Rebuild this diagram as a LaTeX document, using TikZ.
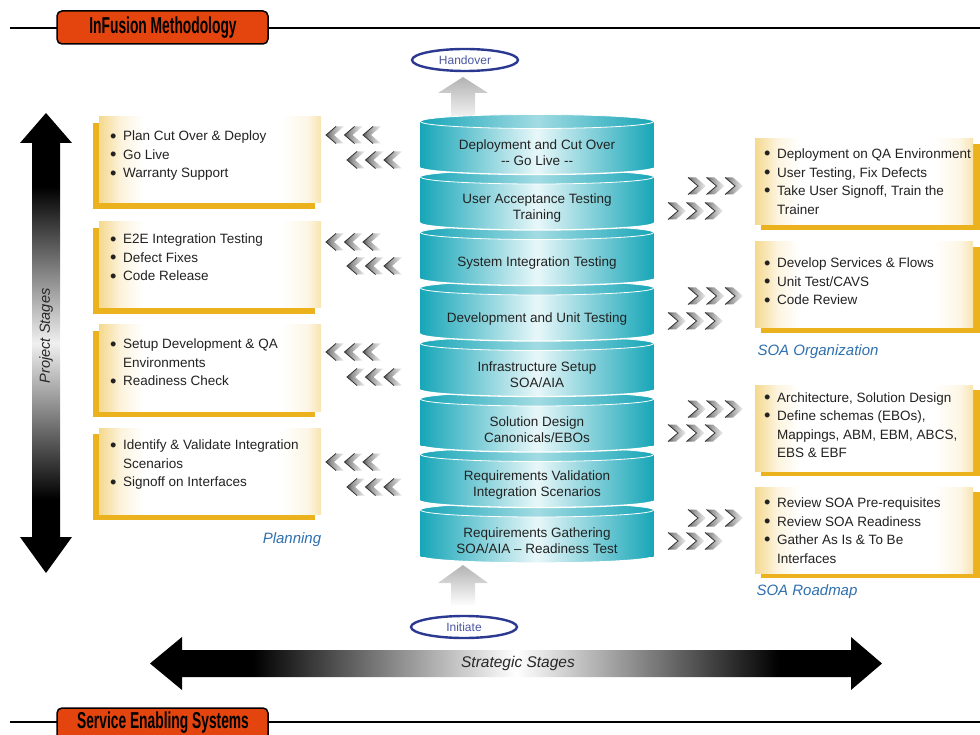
\documentclass[tikz,border=0pt]{standalone}
\usepackage{fontspec}
\setmainfont{Liberation Sans}
\newfontfamily\headfont{Liberation Sans}[FakeStretch=0.6]
\usetikzlibrary{shapes.geometric}
\definecolor{teal1}{HTML}{17A6B8}
\definecolor{tealL}{HTML}{E8F7F9}
\definecolor{gold1}{HTML}{EBB21E}
\definecolor{orng}{HTML}{E4450F}
\definecolor{lblue}{HTML}{2E6FAE}
\definecolor{eblue}{HTML}{2B3990}
\definecolor{txt}{HTML}{222222}
\pgfdeclarehorizontalshading{hbw}{100bp}{color(0bp)=(black); color(32bp)=(black); color(50bp)=(white); color(68bp)=(black); color(100bp)=(black)}
\pgfdeclareverticalshading{vbw}{100bp}{color(0bp)=(black); color(33bp)=(black); color(50bp)=(white!94!black); color(67bp)=(black); color(100bp)=(black)}
\pgfdeclarehorizontalshading{boxsh}{100bp}{color(0bp)=(gold1!50!white); color(25bp)=(gold1!50!white); color(30bp)=(gold1!15!white); color(35bp)=(white); color(66bp)=(white); color(72bp)=(gold1!12!white); color(75bp)=(gold1!35!white); color(100bp)=(gold1!35!white)}
\pgfdeclarehorizontalshading{chevsh}{100bp}{color(0bp)=(black!65); color(25bp)=(black!65); color(40bp)=(black!40); color(75bp)=(black!6); color(100bp)=(black!6)}
\tikzset{
  headbox/.style={fill=orng, draw=black, line width=1.5pt, rounded corners=5pt},
  headtext/.style={font=\headfont\bfseries\fontsize{23}{25}\selectfont, text=black, inner sep=0},
  bodyshade/.style={left color=teal1, right color=teal1, middle color=tealL},
  topshade/.style={left color=teal1, right color=teal1, middle color=teal1!40!white},
  disctext/.style={font=\fontsize{13.5}{16}\selectfont, text=txt, align=center, inner sep=0},
  boxshade/.style={shading=boxsh},
  boxtext/.style={font=\fontsize{13.5}{18.5}\selectfont, text=txt, align=left, inner sep=0, anchor=west},
  lbl/.style={font=\itshape\fontsize{15}{17}\selectfont, text=lblue, inner sep=0},
  oval/.style={ellipse, draw=eblue, line width=2.4pt, fill=white, minimum width=106pt, minimum height=22pt, inner sep=0, text=eblue!85, font=\fontsize{12}{14}\selectfont},
  grayarrow/.style={top color=gray!60, bottom color=white},
  chevfill/.style={shading=chevsh},
  chevedge/.style={draw=black!80, line width=0.8pt}
}
\newcommand\itm[1]{\makebox[13pt][l]{\raisebox{-1.4pt}{\scalebox{1.35}{\textbullet}}}#1}
\newcommand\cnt[1]{\hspace*{13pt}#1}
\newcommand\disc[3]{%
  \path[bodyshade, draw=white, line width=1.3pt] (537,#1+46) ellipse [x radius=116.5pt, y radius=7pt];
  \path[bodyshade] (420.5,#1) rectangle (653.5,#1+46);
  \path[topshade, draw=white, line width=0.8pt] (537,#1) ellipse [x radius=116.5pt, y radius=7pt];
  \node[disctext] (#2) at (537,#1+31) {#3};
}
\newcommand\lbox[4]{%
  \fill[gold1] (93,#2+6) rectangle (315,#2+92);
  \path[boxshade] (99,#2) rectangle (321,#2+86);
  \node[boxtext] (#1) at (110,#3) {#4};
}
\newcommand\rbox[4]{%
  \fill[gold1] (761,#2+5) rectangle (981,#2+91);
  \path[boxshade] (755,#2) rectangle (973,#2+86);
  \node[boxtext] (#1) at (764,#3) {#4};
}
\newcommand\chevL[2]{%
  \foreach \k in {0,1,2}{%
    \pgfmathsetmacro\xx{#1+18.5*\k}
    \path[chevfill] (\xx+18,#2-8.5) -- (\xx+10,#2-8.5) -- (\xx,#2) -- (\xx+10,#2+8.5) -- (\xx+18,#2+8.5) -- (\xx+8,#2) -- cycle;
    \draw[chevedge] (\xx+10,#2-8.5) -- (\xx,#2) -- (\xx+10,#2+8.5);
  }}
\newcommand\chevR[2]{%
  \foreach \k in {0,1,2}{%
    \pgfmathsetmacro\xx{#1+18.5*\k}
    \path[chevfill] (\xx,#2-8.5) -- (\xx+8,#2-8.5) -- (\xx+18,#2) -- (\xx+8,#2+8.5) -- (\xx,#2+8.5) -- (\xx+10,#2) -- cycle;
    \draw[chevedge] (\xx,#2-8.5) -- (\xx+10,#2) -- (\xx,#2+8.5);
  }}
\begin{document}
\begin{tikzpicture}[x=1pt,y=-1pt]
\useasboundingbox (0,0) rectangle (980,735);
% header and footer rules
\draw[line width=2pt] (10,28) -- (980,28);
\draw[line width=2pt] (10,722) -- (980,722);
\path[headbox] (57,11) rectangle (268,44);
\node[headtext] (h1) at (163,27.5) {InFusion Methodology};
\path[headbox] (57,708) rectangle (268,745);
\node[headtext] (h2) at (163,723) {Service Enabling Systems};
% project stages arrow
\path[shading=vbw] (46,113) -- (72,143) -- (60,143) -- (60,537) -- (72,537) -- (46,573) -- (20,537) -- (32,537) -- (32,143) -- (20,143) -- cycle;
\node[font=\itshape\fontsize{14.6}{16}\selectfont, text=black!85, rotate=90, inner sep=0] (ps) at (46,336) {Project Stages};
% strategic stages arrow
\path[shading=hbw] (150,663.5) -- (182,637) -- (182,650) -- (851,650) -- (851,637) -- (882,663.5) -- (851,690) -- (851,677) -- (182,677) -- (182,690) -- cycle;
\node[font=\itshape\fontsize{15.5}{17}\selectfont, text=black!85, inner sep=0] (ss) at (518,663) {Strategic Stages};
% gray arrows
\path[grayarrow] (463,77) -- (488,93) -- (475,93) -- (475,125) -- (451,125) -- (451,93) -- (438,93) -- cycle;
\path[grayarrow] (463,565) -- (488,583) -- (475,583) -- (475,606) -- (451,606) -- (451,583) -- (438,583) -- cycle;
% cylinder stack
\disc{510}{d8}{Requirements Gathering\\SOA/AIA -- Readiness Test}
\disc{454.5}{d7}{Requirements Validation\\Integration Scenarios}
\disc{399}{d6}{Solution Design\\Canonicals/EBOs}
\disc{343.5}{d5}{Infrastructure Setup\\SOA/AIA}
\disc{288}{d4}{Development and Unit Testing}
\disc{232.5}{d3}{System Integration Testing}
\disc{177}{d2}{User Acceptance Testing\\Training}
\disc{121.5}{d1}{Deployment and Cut Over\\{-}{-} Go Live {-}{-}}
% ovals
\node[oval] (hand) at (465,60) {Handover};
\node[oval] (init) at (464,627) {Initiate};
% left boxes
\lbox{L1}{117}{156}{\itm{Plan Cut Over \& Deploy}\\\itm{Go Live}\\\itm{Warranty Support}}
\lbox{L2}{222}{258}{\itm{E2E Integration Testing}\\\itm{Defect Fixes}\\\itm{Code Release}}
\lbox{L3}{325}{363}{\itm{Setup Development \& QA}\\\cnt{Environments}\\\itm{Readiness Check}}
\lbox{L4}{428}{465}{\itm{Identify \& Validate Integration}\\\cnt{Scenarios}\\\itm{Signoff on Interfaces}}
\node[lbl] (plan) at (292,540) {Planning};
% right boxes
\rbox{R1}{139}{181.5}{\itm{Deployment on QA Environment}\\\itm{User Testing, Fix Defects}\\\itm{Take User Signoff, Train the}\\\cnt{Trainer}}
\rbox{R2}{242}{282}{\itm{Develop Services \& Flows}\\\itm{Unit Test/CAVS}\\\itm{Code Review}}
\rbox{R3}{385}{425}{\itm{Architecture, Solution Design}\\\itm{Define schemas (EBOs),}\\\cnt{Mappings, ABM, EBM, ABCS,}\\\cnt{EBS \& EBF}}
\rbox{R4}{487}{530.5}{\itm{Review SOA Pre-requisites}\\\itm{Review SOA Readiness}\\\itm{Gather As Is \& To Be}\\\cnt{Interfaces}}
\node[lbl] (soaorg) at (818,352) {SOA Organization};
\node[lbl] (soarm) at (807,592) {SOA Roadmap};
% chevrons
\chevL{326}{135}\chevL{347}{160}
\chevL{326}{242}\chevL{347}{266}
\chevL{326}{352}\chevL{347}{377}
\chevL{326}{462}\chevL{347}{487}
\chevR{688}{186}\chevR{668}{211}
\chevR{688}{296}\chevR{668}{321}
\chevR{688}{409}\chevR{668}{433}
\chevR{688}{518}\chevR{668}{541}
\end{tikzpicture}
\end{document}
